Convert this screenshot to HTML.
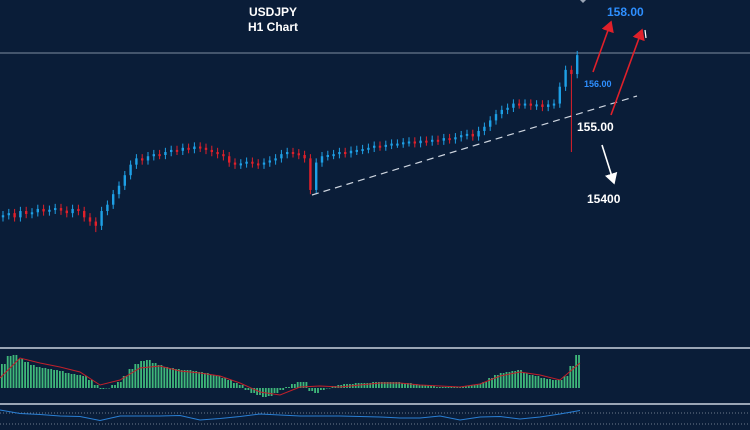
<!DOCTYPE html>
<html><head><meta charset="utf-8"><style>
html,body{margin:0;padding:0;background:#0a1d38;width:750px;height:430px;overflow:hidden}
svg{display:block}
text{font-family:"Liberation Sans",sans-serif;font-weight:bold}
</style></head><body>
<svg id="c" width="750" height="430">
<rect width="750" height="430" fill="#0a1d38"/>
<line x1="0" y1="53" x2="750" y2="53" stroke="#7f8da0" stroke-width="1"/>
<text x="273" y="16" fill="#fff" font-size="12" text-anchor="middle">USDJPY</text>
<text x="273" y="31" fill="#fff" font-size="12" text-anchor="middle">H1 Chart</text>
<g id="candles"></g>
<line x1="312" y1="195" x2="637" y2="96" stroke="#cfd6e0" stroke-width="1.2" stroke-dasharray="7,5"/>
<defs>
<marker id="ar" markerWidth="8" markerHeight="8" refX="6" refY="4" orient="auto"><path d="M0,0 L7,4 L0,8 Z" fill="#e0202a"/></marker>
<marker id="aw" markerWidth="8" markerHeight="8" refX="6" refY="4" orient="auto"><path d="M0,0 L7,4 L0,8 Z" fill="#fff"/></marker>
</defs>
<line x1="593" y1="72" x2="611" y2="22" stroke="#e0202a" stroke-width="1.6" marker-end="url(#ar)"/>
<line x1="611" y1="115" x2="642" y2="30" stroke="#e0202a" stroke-width="1.6" marker-end="url(#ar)"/>
<line x1="645" y1="30" x2="646" y2="38" stroke="#fff" stroke-width="1.2"/>
<line x1="602" y1="145" x2="614" y2="183" stroke="#fff" stroke-width="1.6" marker-end="url(#aw)"/>
<text x="607" y="16" fill="#2e8fff" font-size="12">158.00</text>
<text x="584" y="87" fill="#2e8fff" font-size="9">156.00</text>
<text x="577" y="131" fill="#fff" font-size="12">155.00</text>
<text x="587" y="203" fill="#fff" font-size="12">15400</text>
<path d="M580,0 L583,3 L586,0 Z" fill="#9aa5b5"/>
<rect x="0" y="347" width="750" height="2" fill="#9aa5b5"/>
<g id="macd"></g>
<rect x="0" y="403" width="750" height="2" fill="#9aa5b5"/>
<line x1="0" y1="413" x2="750" y2="413" stroke="#6d7a8c" stroke-dasharray="1,2"/>
<line x1="0" y1="424" x2="750" y2="424" stroke="#6d7a8c" stroke-dasharray="1,2"/>
<g id="rsi"></g>
</svg>
<script>
const closes=[153.35,153.40,153.30,153.45,153.38,153.42,153.50,153.44,153.48,153.52,153.46,
153.40,153.50,153.45,153.30,153.20,153.10,153.45,153.60,153.85,154.05,
154.30,154.55,154.70,154.65,154.75,154.80,154.78,154.85,154.90,154.88,
154.95,154.92,154.98,154.95,154.90,154.85,154.80,154.75,154.60,154.55,154.58,
154.62,154.58,154.55,154.60,154.65,154.70,154.80,154.85,154.82,154.78,154.70,
153.95,154.60,154.75,154.78,154.80,154.85,154.82,154.88,154.90,
154.92,154.95,155.00,154.98,155.02,155.05,155.05,155.08,155.10,155.06,155.12,155.10,
155.14,155.12,155.18,155.15,155.20,155.25,155.28,155.22,155.35,155.45,155.60,
155.75,155.85,155.90,156.00,155.98,156.00,155.95,155.98,155.92,155.98,
156.00,156.40,156.80,156.70,157.15];
const lowOverrides={16:152.95,53:153.85,98:154.85};
const hist=[24,32,33,29,26,23,21,20,19,18,17,15,14,13,12,8,3,-1,0,3,6,12,19,24,27,28,25,23,21,20,19,18,18,17,16,15,13,12,10,8,5,3,-2,-5,-7,-9,-8,-5,-2,1,4,6,6,-3,-5,-2,0,2,3,4,4,5,5,5,6,6,6,6,6,5,5,4,3,3,2,1,1,1,1,1,2,3,4,6,10,13,15,16,17,18,15,13,12,10,9,8,8,12,22,33];
const signal=[10,30,25,21,16,3,8,20,22,17,15,12,5,-4,-7,1,2,1,3,5,5,3,2,1,4,12,16,13,8,25];
const rsi=[80,66,62,56,54,38,56,56,56,58,40,46,54,64,60,56,56,56,54,52,48,48,56,40,52,54,44,52,64,78];
const NS="http://www.w3.org/2000/svg";
const xC=i=>i*5.8+3;
const yP=p=>53+(157.2-p)*42.14;
const yH=v=>388-v;
const xS=k=>k*20;
const yR=v=>430-v/100*25;
function mk(tag,attrs,parent){const e=document.createElementNS(NS,tag);for(const k in attrs)e.setAttribute(k,attrs[k]);parent.appendChild(e);return e;}
const cg=document.getElementById('candles');
closes.forEach((c,i)=>{
  const o=i?closes[i-1]:c-0.05;
  const up=c>=o;
  const col=up?'#1ea0e6':'#e0202a';
  const hi=Math.max(o,c)+0.1;
  const lo=lowOverrides[i]!==undefined?lowOverrides[i]:Math.min(o,c)-0.1;
  const w=mk('line',{x1:xC(i),x2:xC(i),y1:yP(hi),y2:yP(lo),stroke:col,'stroke-width':1},cg);
  
  
  const top=yP(Math.max(o,c)),bot=yP(Math.min(o,c));
  const b=mk('rect',{x:xC(i)-1.2,y:top,width:2.4,height:Math.max(2,bot-top),fill:col},cg);
  
  
});
const mg=document.getElementById('macd');
hist.forEach((v,i)=>{
  for(let s=0;s<2;s++){
    const x=xC(i)-2+s*2.9;
    const r=mk('rect',{x:x,y:Math.min(yH(0),yH(v)),width:1.8,height:Math.max(0.5,Math.abs(v)),fill:'#3fb87a'},mg);
    
    
  }
});
const sl=mk('polyline',{points:signal.map((v,k)=>xS(k)+','+yH(v)).join(' '),fill:'none',stroke:'#c0202a','stroke-width':1},mg);


const rg=document.getElementById('rsi');
const rl=mk('polyline',{points:rsi.map((v,k)=>xS(k)+','+yR(v)).join(' '),fill:'none',stroke:'#2a7fd4','stroke-width':1},rg);


</script>
</body></html>
